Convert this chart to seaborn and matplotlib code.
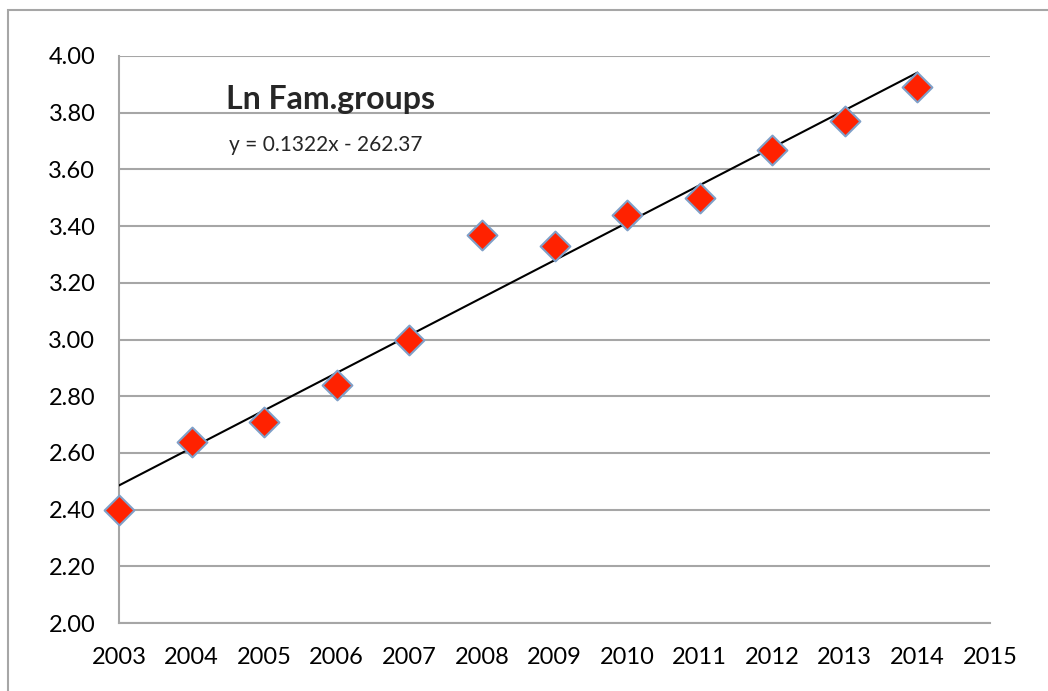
import numpy as np
import pandas as pd
import seaborn as sns
import matplotlib.pyplot as plt
from matplotlib.patches import Rectangle

years = [2003, 2004, 2005, 2006, 2007, 2008, 2009, 2010, 2011, 2012, 2013, 2014]
ln_fam = [2.40, 2.64, 2.71, 2.84, 3.00, 3.37, 3.33, 3.44, 3.50, 3.67, 3.77, 3.89]
x_ticks = list(range(2003, 2016))
y_ticks = [2.0, 2.2, 2.4, 2.6, 2.8, 3.0, 3.2, 3.4, 3.6, 3.8, 4.0]

df = pd.DataFrame({'year': years, 'ln_fam': ln_fam})

sns.set_style('white')
plt.rcParams['font.family'] = ['Lato', 'DejaVu Sans']

fig = plt.figure(figsize=(10.48, 6.91), dpi=100)
ax = fig.add_axes([119 / 1048, 1 - 623 / 691, (990 - 119) / 1048, (623 - 56) / 691])

# outer chart frame (runs off the right and bottom edges)
fig.patches.append(Rectangle((8 / 1048, -0.3), 1.3, 1 - 10 / 691 + 0.3,
                             transform=fig.transFigure, fill=False,
                             edgecolor='#a6a6a6', linewidth=1.5))

# linear trend
slope, icpt = np.polyfit(df['year'], df['ln_fam'], 1)
trend = pd.DataFrame({'year': [years[0], years[-1]]})
trend['fit'] = slope * trend['year'] + icpt
sns.lineplot(data=trend, x='year', y='fit', color='black', linewidth=1.5, ax=ax, zorder=3)

sns.scatterplot(data=df, x='year', y='ln_fam', marker='D', s=230, color='#ff2200',
                edgecolor='#7f9fc8', linewidth=1.5, ax=ax, zorder=4, clip_on=False)

ax.set_xlim(2003, 2015)
ax.set_ylim(2.0, 4.0)
ax.set_xticks(x_ticks)
ax.set_yticks(y_ticks)
ax.set_yticklabels([f'{v:.2f}' for v in y_ticks])
ax.set_xlabel('')
ax.set_ylabel('')
ax.yaxis.grid(True, color='#a6a6a6', linewidth=1.5)
ax.xaxis.grid(False)
for side in ['top', 'right']:
    ax.spines[side].set_visible(False)
for side in ['left', 'bottom']:
    ax.spines[side].set_color('#a6a6a6')
    ax.spines[side].set_linewidth(1.5)
ax.tick_params(axis='both', direction='out', length=7, width=1.5, color='#a6a6a6',
               labelsize=17, labelcolor='black')
ax.tick_params(axis='x', pad=10)
ax.tick_params(axis='y', pad=10)

ax.text(2004.48, 3.845, 'Ln Fam.groups', fontsize=23, fontweight='bold', ha='left', va='center')
ax.text(2004.52, 3.686, 'y = 0.1322x - 262.37', fontsize=15, ha='left', va='center')

fig.savefig('out.png', dpi=100)
